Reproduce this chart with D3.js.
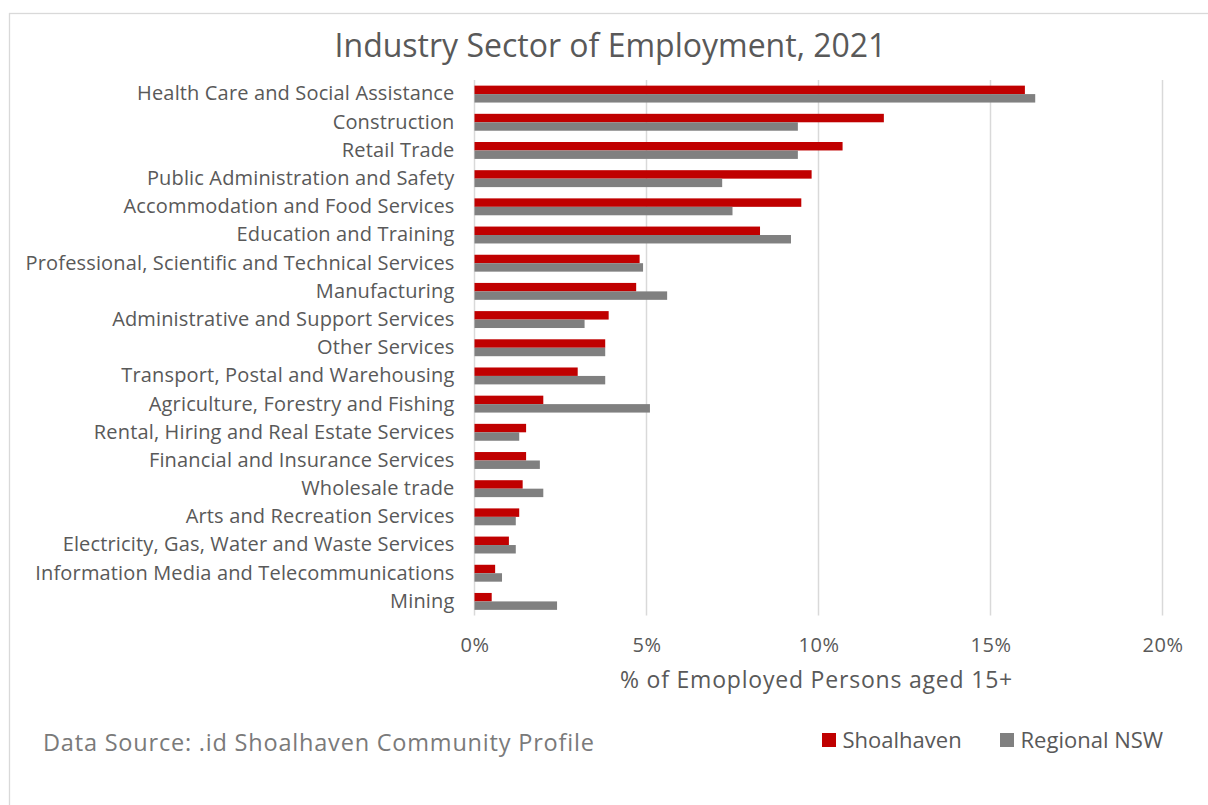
<!DOCTYPE html>
<html>
<head>
<meta charset="utf-8">
<script src="https://cdn.jsdelivr.net/npm/d3@7"></script>
<style>
  html, body { margin: 0; padding: 0; background: #fff; }
  svg { display: block; font-family: "Open Sans", sans-serif; }
</style>
</head>
<body>
<svg id="chart" width="1208" height="805"></svg>
<script>
// Industry sectors, top to bottom
const categories = [
  "Health Care and Social Assistance",
  "Construction",
  "Retail Trade",
  "Public Administration and Safety",
  "Accommodation and Food Services",
  "Education and Training",
  "Professional, Scientific and Technical Services",
  "Manufacturing",
  "Administrative and Support Services",
  "Other Services",
  "Transport, Postal and Warehousing",
  "Agriculture, Forestry and Fishing",
  "Rental, Hiring and Real Estate Services",
  "Financial and Insurance Services",
  "Wholesale trade",
  "Arts and Recreation Services",
  "Electricity, Gas, Water and Waste Services",
  "Information Media and Telecommunications",
  "Mining"
];

// % of employed persons aged 15+
const shoalhaven  = [16.0, 11.9, 10.7, 9.8, 9.5, 8.3, 4.8, 4.7, 3.9, 3.8, 3.0, 2.0, 1.5, 1.5, 1.4, 1.3, 1.0, 0.6, 0.5];
const regionalNSW = [16.3,  9.4,  9.4, 7.2, 7.5, 9.2, 4.9, 5.6, 3.2, 3.8, 3.8, 5.1, 1.3, 1.9, 2.0, 1.2, 1.2, 0.8, 2.4];

const seriesNames = ["Shoalhaven", "Regional NSW"];
const seriesColors = ["#C00000", "#808080"];
const xTicks = [0, 5, 10, 15, 20];

const svg = d3.select("#chart");

// chart area frame
svg.append("rect")
  .attr("x", 9.5).attr("y", 13.5)
  .attr("width", 1400).attr("height", 1000)
  .attr("fill", "#fff").attr("stroke", "#d9d9d9").attr("stroke-width", 1.3);

const plot = { left: 474.5, right: 1162.5, top: 80, bottom: 615.5 };

const x = d3.scaleLinear().domain([0, 20]).range([plot.left, plot.right]);
const y = d3.scaleBand().domain(categories).range([plot.top, plot.bottom])
  .paddingInner(0.4).paddingOuter(0.2);
const ySub = d3.scaleBand().domain(seriesNames).range([0, y.bandwidth()]);

// gridlines
svg.append("g")
  .selectAll("line")
  .data(xTicks)
  .join("line")
  .attr("x1", d => x(d)).attr("x2", d => x(d))
  .attr("y1", plot.top).attr("y2", plot.bottom)
  .attr("stroke", "#d9d9d9").attr("stroke-width", 1.5);

// bars
const rows = categories.map((c, i) => ({ cat: c, vals: [shoalhaven[i], regionalNSW[i]] }));
const groups = svg.append("g").selectAll("g")
  .data(rows)
  .join("g")
  .attr("transform", d => `translate(0,${y(d.cat)})`);

groups.selectAll("rect")
  .data(d => d.vals.map((v, j) => ({ v, s: seriesNames[j], c: seriesColors[j] })))
  .join("rect")
  .attr("x", x(0))
  .attr("y", d => ySub(d.s))
  .attr("width", d => x(d.v) - x(0))
  .attr("height", ySub.bandwidth())
  .attr("fill", d => d.c);

// category axis labels
const yAxis = d3.axisLeft(y).tickSize(0).tickPadding(20);
const yg = svg.append("g").attr("transform", `translate(${plot.left},0)`).call(yAxis);
yg.select(".domain").remove();
yg.selectAll("text")
  .attr("font-size", 20)
  .attr("letter-spacing", 0.15)
  .attr("font-family", "'Open Sans', sans-serif")
  .attr("fill", "#595959");

// value axis labels
const xAxis = d3.axisBottom(x).tickValues(xTicks).tickFormat(d => d + "%").tickSize(0).tickPadding(22);
const xg = svg.append("g").attr("transform", `translate(0,${plot.bottom})`).call(xAxis);
xg.select(".domain").remove();
xg.selectAll("text")
  .attr("font-size", 20)
  .attr("letter-spacing", 0.5)
  .attr("font-family", "'Open Sans', sans-serif")
  .attr("fill", "#595959");

// axis title
svg.append("text")
  .attr("x", (plot.left + plot.right) / 2 - 2).attr("y", 688)
  .attr("text-anchor", "middle")
  .attr("font-size", 23).attr("letter-spacing", 0.8).attr("fill", "#595959")
  .text("% of Emoployed Persons aged 15+");

// chart title
svg.append("text")
  .attr("x", 610.5).attr("y", 57)
  .attr("text-anchor", "middle")
  .attr("font-size", 32).attr("fill", "#595959")
  .text("Industry Sector of Employment, 2021");

// source note
svg.append("text")
  .attr("x", 43).attr("y", 751)
  .attr("font-size", 23.5).attr("letter-spacing", 0.8).attr("fill", "#7a7a7a")
  .text("Data Source: .id Shoalhaven Community Profile");

// legend
const legendX = [822, 1000];
const lg = svg.append("g").selectAll("g")
  .data(seriesNames)
  .join("g")
  .attr("transform", (d, i) => `translate(${legendX[i]},733)`);
lg.append("rect").attr("width", 14).attr("height", 14)
  .attr("fill", (d, i) => seriesColors[i]);
lg.append("text").attr("x", 20.5).attr("y", 15)
  .attr("font-size", 22).attr("fill", "#595959")
  .text(d => d);
</script>
</body>
</html>
